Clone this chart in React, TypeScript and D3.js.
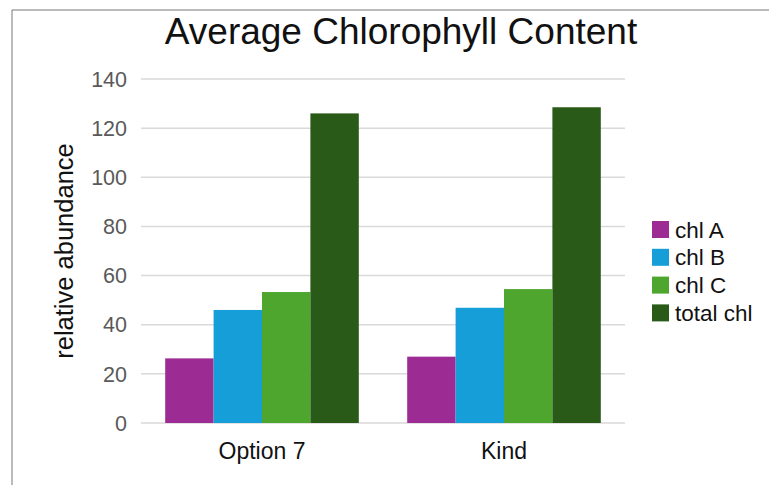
import React from "react";
import * as d3 from "d3";

const categories = ["Option 7", "Kind"];
const seriesNames = ["chl A", "chl B", "chl C", "total chl"];
const chlA = [26.3, 27.0];
const chlB = [46.0, 46.9];
const chlC = [53.3, 54.5];
const totalChl = [126.0, 128.5];
const yTicks = [0, 20, 40, 60, 80, 100, 120, 140];
const colors = ["#9c2b93", "#159ed8", "#4ea62f", "#295a17"];

const W = 769;
const H = 485;
const left = 141;
const right = 625;
const top = 79;
const bottom = 423;

export default function App() {
  const series = [chlA, chlB, chlC, totalChl];
  const x0 = d3.scaleBand<string>().domain(categories).range([left, right]).paddingInner(0.2).paddingOuter(0.1);
  const x1 = d3.scaleBand<string>().domain(seriesNames).range([0, x0.bandwidth()]).padding(0);
  const y = d3.scaleLinear().domain([0, 140]).range([bottom, top]);
  const font = "'Liberation Sans', Arial, sans-serif";

  return (
    <svg width={W} height={H} style={{ position: "absolute", left: 0, top: 0, background: "#fff" }} fontFamily={font}>
      <rect x={0} y={0} width={W} height={H} fill="#fff" />
      <line x1={12} y1={10} x2={W} y2={10} stroke="#777" strokeWidth={1} />
      <line x1={12} y1={10} x2={12} y2={H} stroke="#777" strokeWidth={1} />
      <text x={401} y={44} textAnchor="middle" fontSize={37} fill="#111">Average Chlorophyll Content</text>
      {yTicks.map((t) => (
        <g key={t}>
          <line x1={left} x2={right} y1={y(t)} y2={y(t)} stroke="#d9d9d9" strokeWidth={1.5} />
          <text x={127} y={y(t)} dy="0.36em" textAnchor="end" fontSize={21.5} fill="#595959">{t}</text>
        </g>
      ))}
      {categories.map((c, ci) => (
        <g key={c}>
          {series.map((s, si) => (
            <rect key={si} x={(x0(c) as number) + (x1(seriesNames[si]) as number)} y={y(s[ci])}
              width={x1.bandwidth()} height={bottom - y(s[ci])} fill={colors[si]} />
          ))}
          <text x={(x0(c) as number) + x0.bandwidth() / 2} y={459} textAnchor="middle" fontSize={23} fill="#111">{c}</text>
        </g>
      ))}
      <text transform={`translate(73,251) rotate(-90)`} textAnchor="middle" fontSize={25.5} fill="#111">relative abundance</text>
      {seriesNames.map((n, i) => (
        <g key={n} transform={`translate(652,${221 + i * 27.8})`}>
          <rect x={0} y={0} width={17} height={17} fill={colors[i]} />
          <text x={23} y={8.5} dy="0.36em" fontSize={22.5} fill="#111">{n}</text>
        </g>
      ))}
    </svg>
  );
}
